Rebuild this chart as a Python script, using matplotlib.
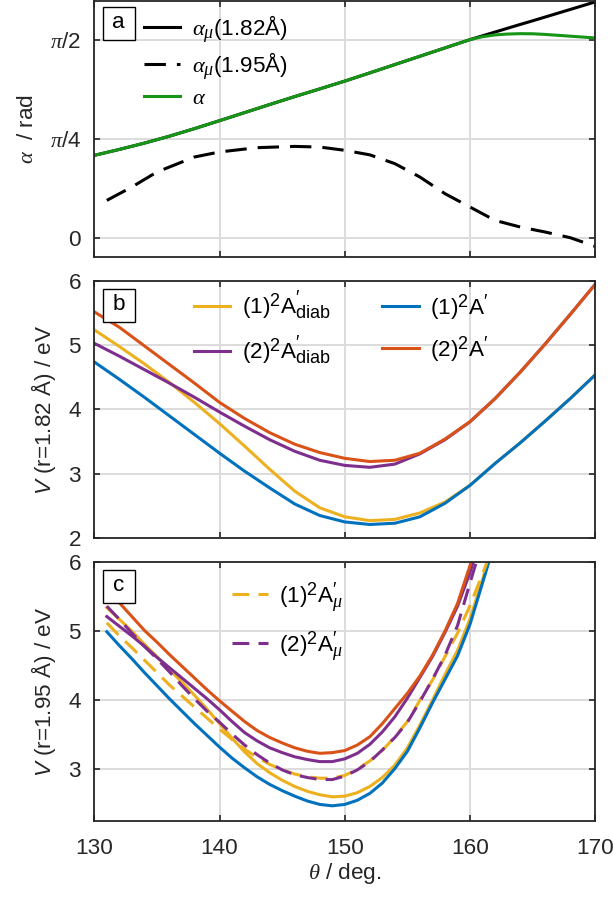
import numpy as np
import matplotlib
matplotlib.use("Agg")
import matplotlib.pyplot as plt
import matplotlib._mathtext as _mt
from matplotlib.patches import Rectangle

_mt.SHRINK_FACTOR = 0.8

plt.rcParams['font.family'] = ['Liberation Sans', 'DejaVu Sans']
plt.rcParams['mathtext.fontset'] = 'custom'
plt.rcParams['mathtext.rm'] = 'Liberation Sans'
plt.rcParams['mathtext.it'] = 'Liberation Serif:italic'
plt.rcParams['mathtext.sf'] = 'Liberation Sans:italic'
plt.rcParams['mathtext.bf'] = 'Liberation Sans:bold'
FS = 16.2

# ---------------- data ----------------
# panel a: mixing angles (rad) vs theta (deg)
theta_alpha = [130, 132, 134, 136, 138, 140, 142, 144, 146, 148, 150, 152, 154, 156, 158, 160,
               161, 162, 163, 164, 165, 166, 168, 170]
alpha_adiab = [0.653, 0.700, 0.750, 0.805, 0.865, 0.928, 0.992, 1.056, 1.119, 1.180, 1.242, 1.307,
               1.373, 1.439, 1.505, 1.571, 1.594, 1.608, 1.615, 1.618, 1.617, 1.612, 1.598, 1.584]
alpha_mu_182 = [0.653, 0.700, 0.750, 0.805, 0.865, 0.928, 0.992, 1.056, 1.119, 1.180, 1.242, 1.307,
                1.373, 1.439, 1.505, 1.571, 1.601, 1.631, 1.661, 1.691, 1.720, 1.750, 1.810, 1.870]
theta_alpha195 = [131, 133, 135, 138, 140, 143, 146, 148, 150, 152, 154, 156, 158, 160, 162, 164,
                  166, 168, 170]
alpha_mu_195 = [0.296, 0.402, 0.521, 0.640, 0.680, 0.714, 0.724, 0.719, 0.693, 0.657, 0.587, 0.481,
                0.349, 0.243, 0.137, 0.085, 0.045, 0.000, -0.069]

# panel b: r = 1.82 A
theta_b = [130, 132, 134, 136, 138, 140, 142, 144, 146, 148, 150, 152, 154, 156, 158, 160, 162,
           164, 166, 168, 170]
Vb_1diab = [5.24, 4.98, 4.71, 4.42, 4.11, 3.78, 3.43, 3.07, 2.73, 2.47, 2.33, 2.27, 2.29, 2.39,
            2.56, 2.82, 3.16, 3.48, 3.82, 4.17, 4.54]
Vb_2diab = [5.03, 4.83, 4.62, 4.41, 4.19, 3.96, 3.74, 3.53, 3.35, 3.21, 3.13, 3.10, 3.15, 3.31,
            3.53, 3.81, 4.17, 4.58, 5.02, 5.48, 5.95]
Vb_1 = [4.74, 4.47, 4.19, 3.90, 3.61, 3.32, 3.04, 2.78, 2.53, 2.35, 2.25, 2.21, 2.23, 2.33, 2.54,
        2.82, 3.16, 3.48, 3.82, 4.17, 4.54]
Vb_2 = [5.52, 5.28, 4.99, 4.70, 4.41, 4.11, 3.86, 3.64, 3.46, 3.33, 3.24, 3.19, 3.21, 3.32, 3.54,
        3.81, 4.17, 4.58, 5.02, 5.48, 5.95]

# panel c: r = 1.95 A
theta_c = [131, 132, 133, 134, 135, 136, 137, 138, 139, 140, 141, 142, 143, 144, 145, 146, 147,
           148, 149, 150, 151, 152, 153, 154, 155, 156, 157, 158, 159, 160, 161, 162]
Vc_1diab = [5.34, 5.17, 5.00, 4.81, 4.63, 4.44, 4.26, 4.07, 3.87, 3.66, 3.45, 3.25, 3.08, 2.95,
            2.84, 2.75, 2.68, 2.63, 2.60, 2.61, 2.66, 2.75, 2.88, 3.06, 3.31, 3.64, 4.00, 4.37,
            4.72, 5.18, 5.75, 6.35]
Vc_2diab = [5.21, 5.07, 4.93, 4.78, 4.62, 4.47, 4.32, 4.17, 4.02, 3.86, 3.69, 3.53, 3.41, 3.31,
            3.24, 3.18, 3.14, 3.11, 3.11, 3.15, 3.23, 3.36, 3.54, 3.76, 4.03, 4.33, 4.63, 4.98,
            5.36, 5.85, 6.45, 7.05]
Vc_1 = [4.99, 4.79, 4.60, 4.40, 4.21, 4.02, 3.84, 3.66, 3.49, 3.32, 3.16, 3.02, 2.89, 2.78, 2.69,
        2.61, 2.54, 2.49, 2.47, 2.49, 2.55, 2.65, 2.80, 3.01, 3.26, 3.60, 3.96, 4.30, 4.64, 5.10,
        5.70, 6.30]
Vc_2 = [5.60, 5.41, 5.21, 5.01, 4.84, 4.66, 4.49, 4.32, 4.15, 3.99, 3.84, 3.69, 3.56, 3.46, 3.38,
        3.31, 3.26, 3.23, 3.24, 3.27, 3.35, 3.47, 3.66, 3.88, 4.10, 4.35, 4.65, 5.00, 5.40, 5.95,
        6.55, 7.15]
Vc_1mu = [5.12, 4.93, 4.76, 4.58, 4.40, 4.22, 4.06, 3.90, 3.74, 3.58, 3.43, 3.29, 3.17, 3.07,
          2.99, 2.93, 2.89, 2.87, 2.87, 2.91, 3.00, 3.12, 3.27, 3.47, 3.69, 4.00, 4.29, 4.63,
          4.97, 5.37, 5.83, 6.30]
Vc_2mu = [5.36, 5.17, 4.97, 4.78, 4.60, 4.41, 4.21, 4.02, 3.84, 3.68, 3.51, 3.35, 3.21, 3.09,
          2.99, 2.92, 2.88, 2.85, 2.85, 2.90, 2.99, 3.11, 3.28, 3.46, 3.68, 3.98, 4.30, 4.65,
          5.08, 5.70, 6.30, 6.90]

x_ticks = [130, 140, 150, 160, 170]

# ---------------- style ----------------
BLUE = '#0072BD'
ORANGE = '#D95319'
YELLOW = '#EDB120'
PURPLE = '#7E2F8E'
GREEN = '#169516'
AXC = '#262626'
LW = 2.2

fig = plt.figure(figsize=(6.13, 9.01), dpi=100)
L, W = 0.15383, 0.81729
ax_a = fig.add_axes([L, 0.71476, W, 0.28413])
ax_b = fig.add_axes([L, 0.40289, W, 0.28524])
ax_c = fig.add_axes([L, 0.08879, W, 0.28746])


def style(ax):
    ax.set_xlim(130, 170)
    ax.set_xticks(x_ticks)
    ax.grid(True, color='#dcdcdc', lw=1.4)
    ax.set_axisbelow(True)
    for s in ax.spines.values():
        s.set_color(AXC)
        s.set_linewidth(1.3)
    ax.tick_params(direction='in', length=4.5, width=1.2, color=AXC, labelcolor=AXC,
                   labelsize=FS, top=True, right=True)
    ax.tick_params(axis='y', pad=9.5)
    ax.tick_params(axis='x', pad=12)


def label_box(ax, txt, xc, yc, w, h):
    ax.add_patch(Rectangle((xc - w / 2, yc - h / 2), w, h, transform=ax.transAxes,
                           fc='white', ec='black', lw=1.0, zorder=10, clip_on=False))
    ax.text(xc, yc + 0.005, txt, transform=ax.transAxes, ha='center', va='center',
            fontsize=FS, zorder=11, color='black')


# panel a
style(ax_a)
ax_a.plot(theta_alpha, alpha_mu_182, color='black', lw=LW, label=r'$\alpha_\mu$(1.82Å)')
ax_a.plot(theta_alpha195, alpha_mu_195, color='black', lw=LW, dashes=(7.0, 3.6),
          label=r'$\alpha_\mu$(1.95Å)')
ax_a.plot(theta_alpha, alpha_adiab, color=GREEN, lw=LW, label=r'$\alpha$')
ax_a.set_ylim(-0.153, 1.877)
ax_a.set_yticks([0, np.pi / 4, np.pi / 2])
ax_a.set_yticklabels(['0', r'$\pi$/4', r'$\pi$/2'])
ax_a.set_xticklabels([])
ax_a.set_ylabel(r'$\alpha$  / rad', fontsize=FS, color=AXC)
ax_a.yaxis.set_label_coords(-0.113, 0.5)
ax_a.legend(loc='upper left', bbox_to_anchor=(0.099, 0.955), frameon=False, fontsize=FS,
            borderpad=0, borderaxespad=0, handlelength=1.62, handletextpad=0.5,
            labelspacing=0.3)
label_box(ax_a, 'a', 0.0487, 0.911, 0.0639, 0.129)

# panel b
style(ax_b)
ax_b.plot(theta_b, Vb_1diab, color=YELLOW, lw=LW, label=r'(1)$^2$A$^{\prime}_{\mathrm{diab}}$')
ax_b.plot(theta_b, Vb_2diab, color=PURPLE, lw=LW, label=r'(2)$^2$A$^{\prime}_{\mathrm{diab}}$')
ax_b.plot(theta_b, Vb_1, color=BLUE, lw=LW, label=r'(1)$^2$A$^{\prime}$')
ax_b.plot(theta_b, Vb_2, color=ORANGE, lw=LW, label=r'(2)$^2$A$^{\prime}$')
ax_b.set_ylim(2, 6)
ax_b.set_yticks([2, 3, 4, 5, 6])
ax_b.set_xticklabels([])
ax_b.set_ylabel(r'$\mathsf{V}$ (r=1.82 Å) / eV', fontsize=FS, color=AXC)
ax_b.yaxis.set_label_coords(-0.072, 0.5)
ax_b.legend(loc='upper left', bbox_to_anchor=(0.199, 0.97), frameon=False, fontsize=FS, ncol=2,
            borderpad=0, borderaxespad=0, handlelength=1.62, handletextpad=0.5,
            labelspacing=0.5, columnspacing=2.3)
label_box(ax_b, 'b', 0.049, 0.9035, 0.0639, 0.128)

# panel c
style(ax_c)
ax_c.plot(theta_c, Vc_1diab, color=YELLOW, lw=LW)
ax_c.plot(theta_c, Vc_2diab, color=PURPLE, lw=LW)
ax_c.plot(theta_c, Vc_1, color=BLUE, lw=LW)
ax_c.plot(theta_c, Vc_2, color=ORANGE, lw=LW)
ax_c.plot(theta_c, Vc_1mu, color=YELLOW, lw=LW, dashes=(5.5, 3.0),
          label=r'(1)$^2$A$^{\prime}_{\mu}$')
ax_c.plot(theta_c, Vc_2mu, color=PURPLE, lw=LW, dashes=(5.5, 3.0),
          label=r'(2)$^2$A$^{\prime}_{\mu}$')
ax_c.set_ylim(2.25, 6)
ax_c.set_yticks([3, 4, 5, 6])
ax_c.set_xticklabels([str(t) for t in x_ticks])
ax_c.set_ylabel(r'$\mathsf{V}$ (r=1.95 Å) / eV', fontsize=FS, color=AXC)
ax_c.yaxis.set_label_coords(-0.072, 0.5)
ax_c.set_xlabel(r'$\theta$ / deg.', fontsize=FS, color=AXC, labelpad=2)
ax_c.legend(loc='upper left', bbox_to_anchor=(0.274, 0.93), frameon=False, fontsize=FS,
            borderpad=0, borderaxespad=0, handlelength=1.62, handletextpad=0.5,
            labelspacing=0.65)
label_box(ax_c, 'c', 0.049, 0.9054, 0.0639, 0.127)

fig.savefig('out.png', dpi=100)
